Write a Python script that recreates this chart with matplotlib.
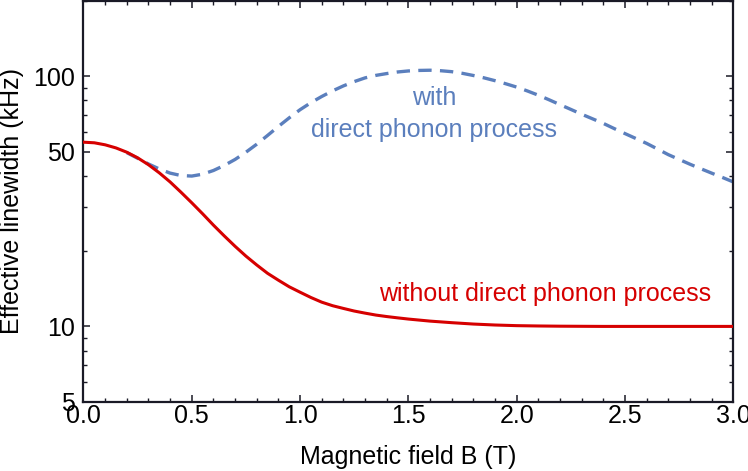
import matplotlib
matplotlib.use("Agg")
import matplotlib.pyplot as plt
from matplotlib.ticker import FixedLocator, NullFormatter, MultipleLocator, FormatStrFormatter

plt.rcParams['font.family'] = ['Liberation Sans', 'DejaVu Sans']

# Data
b_red = [0.00, 0.05, 0.10, 0.15, 0.20, 0.25, 0.30, 0.35, 0.40, 0.45, 0.50, 0.55,
         0.60, 0.65, 0.70, 0.75, 0.80, 0.85, 0.90, 0.95, 1.00, 1.05, 1.10, 1.15,
         1.20, 1.25, 1.30, 1.35, 1.40, 1.45, 1.50, 1.60, 1.70, 1.80, 1.90, 2.00,
         2.10, 2.20, 2.40, 2.70, 3.00]
w_red = [54.5, 54.2, 53.2, 51.7, 49.7, 47.2, 44.3, 41.1, 37.8, 34.4, 31.2, 28.2,
         25.4, 23.0, 20.9, 19.1, 17.6, 16.3, 15.3, 14.4, 13.7, 13.05, 12.5, 12.1,
         11.8, 11.52, 11.3, 11.1, 10.95, 10.82, 10.7, 10.5, 10.35, 10.22, 10.13, 10.07,
         10.04, 10.02, 10.0, 10.0, 10.0]

b_blue = [0.20, 0.25, 0.30, 0.35, 0.40, 0.45, 0.50, 0.55, 0.60, 0.65, 0.70, 0.75,
          0.80, 0.85, 0.90, 0.95, 1.00, 1.05, 1.10, 1.15, 1.20, 1.25, 1.30, 1.35,
          1.40, 1.45, 1.50, 1.55, 1.60, 1.65, 1.70, 1.75, 1.80, 1.85, 1.90, 1.95,
          2.00, 2.05, 2.10, 2.15, 2.20, 2.25, 2.30, 2.35, 2.40, 2.45, 2.50, 2.55,
          2.60, 2.65, 2.70, 2.75, 2.80, 2.85, 2.90, 2.95, 3.00]
w_blue = [49.5, 47.0, 44.6, 42.6, 41.0, 40.1, 39.9, 40.6, 42.0, 44.0, 46.5, 49.7,
          53.5, 58.0, 63.0, 68.2, 73.5, 78.4, 83.0, 87.4, 91.5, 95.2, 98.5, 100.8,
          102.5, 104.0, 105.0, 105.5, 105.7, 105.2, 104.3, 102.7, 100.7, 98.5, 96.0, 93.3,
          90.5, 87.3, 84.0, 80.5, 77.0, 73.7, 70.5, 67.6, 64.8, 61.8, 59.0, 56.4,
          53.9, 51.2, 48.6, 46.5, 44.5, 42.7, 41.0, 39.4, 37.8]

y_major = [5, 10, 50, 100]
y_minor = [6, 7, 8, 9, 20, 30, 40, 60, 70, 80, 90, 200]

red = '#d60000'
blue = '#5b7fbd'
axc = '#1a1a26'
fs = 18

fig = plt.figure(figsize=(7.48, 4.71), dpi=100)
ax = fig.add_axes([0.1116, 0.1471, 0.9803 - 0.1116, 0.998 - 0.1471])

ax.plot(b_blue, w_blue, color=blue, lw=2.4, dashes=(4.0, 2.5), zorder=2)
ax.plot(b_red, w_red, color=red, lw=2.2, zorder=3)

ax.set_yscale('log')
ax.set_xlim(0, 3)
ax.set_ylim(5, 200)

ax.xaxis.set_major_locator(MultipleLocator(0.5))
ax.xaxis.set_minor_locator(MultipleLocator(0.1))
ax.xaxis.set_major_formatter(FormatStrFormatter('%.1f'))
ax.yaxis.set_major_locator(FixedLocator(y_major))
ax.yaxis.set_minor_locator(FixedLocator(y_minor))
ax.yaxis.set_major_formatter(FormatStrFormatter('%d'))
ax.yaxis.set_minor_formatter(NullFormatter())

ax.tick_params(which='both', direction='in', top=True, right=True, colors=axc,
               labelcolor='black', labelsize=fs)
ax.tick_params(which='major', length=5, width=1.1)
ax.tick_params(which='minor', length=2.8, width=1.0)
ax.tick_params(axis='x', which='major', pad=2)
ax.tick_params(axis='y', which='major', pad=6)
for s in ax.spines.values():
    s.set_color(axc)
    s.set_linewidth(1.6)

ax.set_xlabel('Magnetic field B (T)', fontsize=fs, labelpad=12)
ax.set_ylabel('Effective linewidth (kHz)', fontsize=fs, labelpad=7)

ax.text(1.62, 77.0, 'with', color=blue, fontsize=fs, ha='center', va='baseline')
ax.text(1.62, 57.0, 'direct phonon process', color=blue, fontsize=fs,
        ha='center', va='baseline')
ax.text(2.13, 12.6, 'without direct phonon process', color=red, fontsize=fs,
        ha='center', va='baseline')

fig.savefig('out.png', dpi=100)
